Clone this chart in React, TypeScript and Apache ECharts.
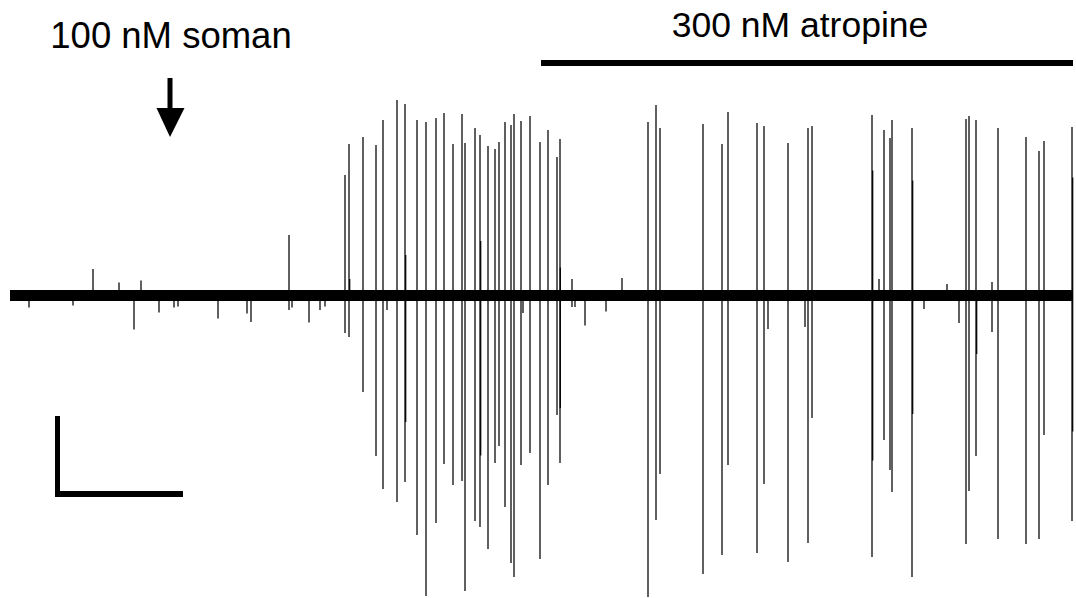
import React, { useEffect, useRef } from "react";
import * as echarts from "echarts";

// Time in seconds, amplitude in µV (baseline = 0)
const spikeTimes = [
  19, 63, 83, 109, 124, 131, 149, 164, 168, 208, 237, 241, 279, 282, 299, 310, 315,
  335, 339, 353, 366, 373, 377, 387, 395, 407, 416, 426, 434, 443, 452, 455, 465, 470, 478, 485, 489, 495, 501, 504, 511, 513, 520, 530, 538, 547, 550, 562, 565,
  575, 596, 612, 638, 646, 650, 693, 712, 718, 747, 754, 758, 778, 795, 798, 802,
  862, 869, 874, 880, 882, 902, 914, 937, 949, 956, 959, 966, 982, 988, 1016, 1029, 1034, 1062,
];
const spikeUp = [
  0, 0, 53, 26, 0, 30, 0, 0, 0, 0, 0, 0, 121, 0, 0, 0, 0,
  241, 303, 317, 301, 351, 0, 391, 383, 351, 347, 355, 365, 303, 363, 305, 335, 321, 299, 293, 307, 347, 341, 363, 349, 0, 359, 307, 331, 277, 313, 33, 0,
  0, 0, 35, 347, 381, 335, 343, 303, 367, 345, 339, 0, 305, 0, 335, 339,
  361, 33, 331, 315, 351, 335, 0, 23, 0, 353, 359, 351, 27, 335, 317, 289, 309, 337,
];
const spikeDown = [
  -24, -20, 0, 0, -68, -8, -34, -24, -22, -46, -36, -53, -29, -24, -54, -29, -22,
  -75, -83, -193, -321, -387, -29, -413, -373, -479, -601, -455, -337, -379, -371, -591, -451, -463, -507, -335, -301, -423, -535, -563, -339, -35, -315, -527, -379, -239, -335, -23, -23,
  -60, -32, 0, -603, -449, -357, -557, -519, -339, -515, -377, -67, -533, -63, -495, -245,
  -523, 0, -289, -349, -393, -563, -27, 0, -55, -497, -391, -321, -73, -487, -497, -487, -279, -451,
];

// overlapping (doublet) spikes that thicken some traces
const doubletTimes = [339.7, 395.7, 470.7, 550.3, 862.7, 902.7, 966.7, 1062.7];
const doubletUp = [33, 81, 109, 56, 250, 230, 0, 236];
const doubletDown = [0, -253, -320, -225, -330, -237, -117, -272];

const traceStart = 0;
const traceEnd = 1063;

const somanLabel = "100 nM soman";
const atropineLabel = "300 nM atropine";

export default function App() {
  const ref = useRef<HTMLDivElement>(null);
  useEffect(() => {
    if (!ref.current) return;
    const chart = echarts.init(ref.current, null, { renderer: "svg" });
    const spikes = spikeTimes.map((t, i) => [t, spikeUp[i], spikeDown[i]]);
    const doublets = doubletTimes.map((t, i) => [t, doubletUp[i], doubletDown[i]]);
    const renderSpike = (params: any, api: any) => {
      const t = api.value(0);
      const p1 = api.coord([t, api.value(1)]);
      const p2 = api.coord([t, api.value(2)]);
      return {
        type: "line",
        shape: { x1: p1[0], y1: p1[1], x2: p2[0], y2: p2[1] },
        style: { stroke: "#000", lineWidth: 1.25 },
      };
    };
    const font = '"Liberation Sans", Arial, sans-serif';
    chart.setOption({
      animation: false,
      backgroundColor: "#fff",
      grid: { left: 10, right: 3, top: 0, bottom: 0 },
      xAxis: { type: "value", min: traceStart, max: traceEnd, show: false },
      yAxis: { type: "value", min: -605, max: 591, show: false },
      series: [
        {
          type: "line",
          data: [[traceStart, 0], [traceEnd, 0]],
          symbol: "none",
          lineStyle: { color: "#000", width: 11 },
          silent: true,
        },
        {
          type: "custom",
          data: spikes,
          renderItem: renderSpike,
          silent: true,
        },
        {
          type: "custom",
          data: doublets,
          renderItem: renderSpike,
          silent: true,
        },
      ],
      graphic: [
        {
          type: "text",
          x: 171,
          y: 35.5,
          style: {
            text: somanLabel,
            fontSize: 36.5,
            fontFamily: font,
            fill: "#000",
            align: "center",
            verticalAlign: "middle",
          },
        },
        { type: "rect", shape: { x: 167.5, y: 78, width: 5, height: 32 }, style: { fill: "#000" } },
        {
          type: "polygon",
          shape: { points: [[156.5, 108], [184.5, 108], [170, 137]] },
          style: { fill: "#000" },
        },
        {
          type: "text",
          x: 800,
          y: 25,
          style: {
            text: atropineLabel,
            fontSize: 35.5,
            fontFamily: font,
            fill: "#000",
            align: "center",
            verticalAlign: "middle",
          },
        },
        { type: "rect", shape: { x: 541, y: 60, width: 532, height: 6 }, style: { fill: "#000" } },
        { type: "rect", shape: { x: 55, y: 416, width: 5, height: 81 }, style: { fill: "#000" } },
        { type: "rect", shape: { x: 55, y: 491, width: 128, height: 6 }, style: { fill: "#000" } },
      ],
    });
    return () => chart.dispose();
  }, []);
  return (
    <div
      ref={ref}
      style={{ position: "absolute", left: 0, top: 0, width: 1076, height: 598 }}
    />
  );
}
